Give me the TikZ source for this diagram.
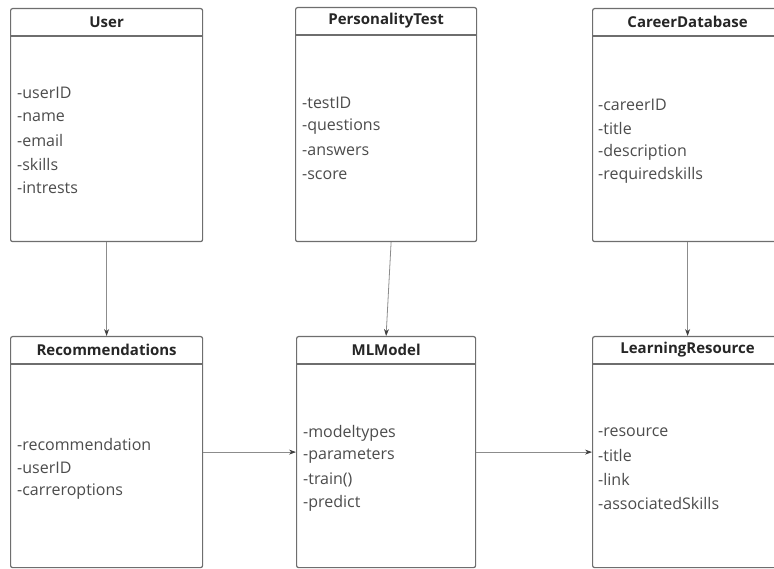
\documentclass[tikz,border=0pt]{standalone}
\usepackage{fontspec}
\setmainfont{Open Sans}
\usetikzlibrary{arrows.meta,positioning}
\definecolor{boxgray}{HTML}{6E6E6E}
\definecolor{linegray}{HTML}{8C8C8C}

\begin{document}
\begin{tikzpicture}[
    x=1pt, y=-1pt,
    classbox/.style={draw=boxgray, line width=1.2pt, rounded corners=2pt, fill=white, inner sep=0pt, anchor=north west},
    divider/.style={draw=boxgray, line width=1.2pt},
    header/.style={inner sep=0pt, font=\fontsize{15}{18}\selectfont\bfseries, text=black!85},
    attr/.style={anchor=west, inner sep=0pt, font=\fontsize{16}{20}\selectfont, text=black!70},
    arrow/.style={-{Stealth[length=7pt,width=5pt,color=black!75]}, draw=linegray, line width=0.8pt}
]
\useasboundingbox (0,0) rectangle (774,569);
\clip (0,0) rectangle (774,569);

% top row
\node[classbox, minimum width=192, minimum height=233] (user) at (10,8) {};
\node[classbox, minimum width=181, minimum height=234] (test) at (295,7) {};
\node[classbox, minimum width=190, minimum height=233] (career) at (592,8) {};
% bottom row
\node[classbox, minimum width=192, minimum height=231] (rec) at (10,336) {};
\node[classbox, minimum width=179, minimum height=231] (ml) at (296,336) {};
\node[classbox, minimum width=190, minimum height=231] (learn) at (592,336) {};

% headers
\foreach \b/\name in {user/User, test/PersonalityTest, career/CareerDatabase,
                      rec/Recommendations, ml/MLModel, learn/LearningResource} {
  \draw[divider] ([yshift=-28pt]\b.north west) -- ([yshift=-28pt]\b.north east);
  \node[header] (\b-h) at ([yshift=-14pt]\b.north) {\name};
}

% attributes
\foreach \t [count=\i] in {-userID, -name, -email, -skills, -intrests}
  \node[attr] (user-\i) at (17,{93+23.8*(\i-1)}) {\t};
\foreach \t [count=\i] in {-testID, -questions, -answers, -score}
  \node[attr] (test-\i) at (302,{103+24*(\i-1)}) {\t};
\foreach \t [count=\i] in {-careerID, -title, -description, -requiredskills}
  \node[attr] (career-\i) at (598,{105+23.6*(\i-1)}) {\t};
\foreach \t [count=\i] in {-recommendation, -userID, -carreroptions}
  \node[attr] (rec-\i) at (17,{444+24*(\i-1)}) {\t};
\foreach \t [count=\i] in {-modeltypes, -parameters, -train(), -predict}
  \node[attr] (ml-\i) at (303,{433+23.5*(\i-1)}) {\t};
\foreach \t [count=\i] in {-resource, -title, -link, -associatedSkills}
  \node[attr] (learn-\i) at (598,{432+23.8*(\i-1)}) {\t};

% connectors
\draw[arrow] (user.south) -- (rec.north);
\draw[arrow] ([xshift=5pt]test.south) -- (ml.north);
\draw[arrow] (career.south) -- (learn.north);
\draw[arrow] (rec.east) -- (ml.west);
\draw[arrow] (ml.east) -- (learn.west);
\end{tikzpicture}
\end{document}
